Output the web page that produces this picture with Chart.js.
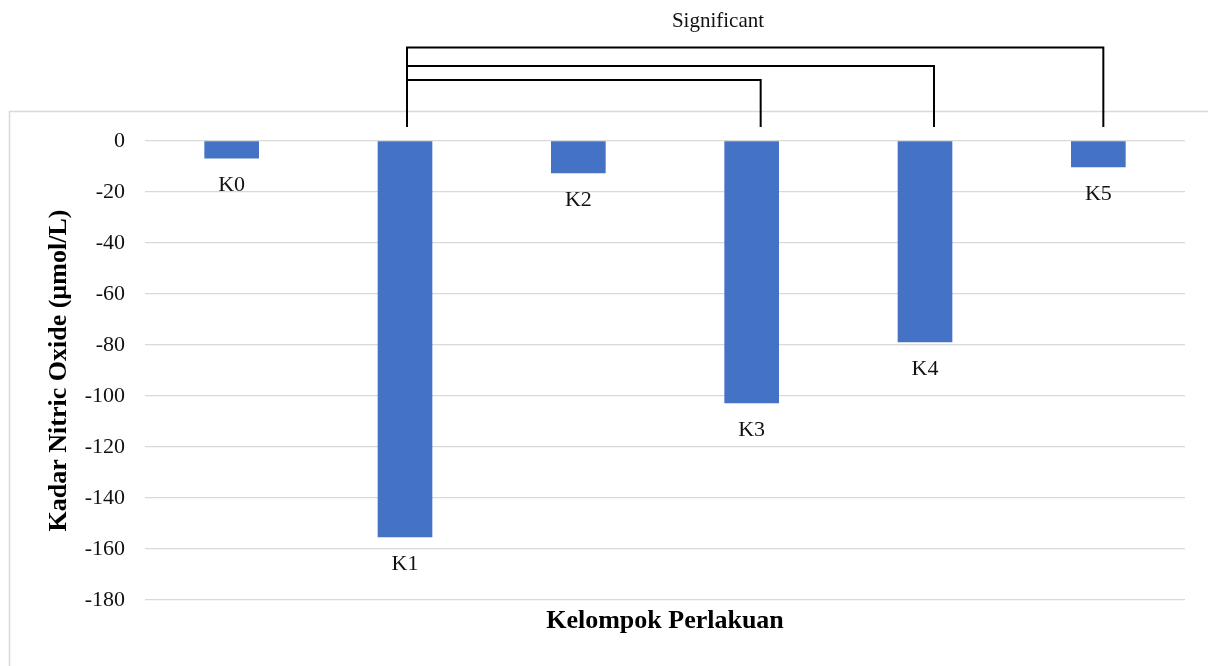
<!DOCTYPE html>
<html>
<head>
<meta charset="utf-8">
<script src="https://cdn.jsdelivr.net/npm/chart.js@4.4.1/dist/chart.umd.min.js"></script>
<style>
  body { margin: 0; background: #fff; }
</style>
</head>
<body>
<canvas id="nitricChart" width="1208" height="666"></canvas>
<script>
'use strict'

// data
const groups = ['K0', 'K1', 'K2', 'K3', 'K4', 'K5'];
const nitricValues = [-6.7, -155.3, -12.5, -102.7, -78.8, -10.2];
const yTicks = [0, -20, -40, -60, -80, -100, -120, -140, -160, -180];
const sigFrom = ['K1', 'K1', 'K1'];
const sigTo = ['K3', 'K4', 'K5'];

const serif = '"Liberation Serif", "Times New Roman", serif';

// 外枠
const frameBox = {
  id: 'frameBox',
  beforeDraw(chart) {
    const c = chart.ctx;
    c.save();
    c.fillStyle = '#fff';
    c.fillRect(0, 0, chart.width, chart.height);
    c.strokeStyle = '#d9d9d9';
    c.lineWidth = 1.5;
    c.strokeRect(9.5, 111.5, 1400, 800);
    c.restore();
  }
};

// ラベル K0..K5 (bar end の下)
const barLabels = {
  id: 'barLabels',
  afterDatasetsDraw(chart) {
    const c = chart.ctx;
    const meta = chart.getDatasetMeta(0);
    c.save();
    c.font = '22px ' + serif;
    c.fillStyle = '#111';
    c.textAlign = 'center';
    c.textBaseline = 'middle';
    meta.data.forEach((bar, i) => {
      c.fillText(groups[i], bar.x, bar.y + 27);
    });
    c.restore();
  }
};

// 有意差ブラケット
const sigBrackets = {
  id: 'sigBrackets',
  afterDraw(chart) {
    const c = chart.ctx;
    const x = chart.scales.x;
    const levels = [80, 66, 47.5];
    const shift = [9, 9, 5];
    const bottom = 127;
    c.save();
    c.strokeStyle = '#000';
    c.lineWidth = 2;
    sigFrom.forEach((from, i) => {
      const x1 = x.getPixelForValue(groups.indexOf(from)) + 2;
      const x2 = x.getPixelForValue(groups.indexOf(sigTo[i])) + shift[i];
      c.beginPath();
      c.moveTo(x1, bottom);
      c.lineTo(x1, levels[i]);
      c.lineTo(x2, levels[i]);
      c.lineTo(x2, bottom);
      c.stroke();
    });
    c.font = '21px ' + serif;
    c.fillStyle = '#111';
    c.textAlign = 'center';
    c.textBaseline = 'alphabetic';
    c.fillText('Significant', 718, 27);
    c.restore();
  }
};

const ctx = document.getElementById('nitricChart');
const myChart = new Chart(ctx, {
  type: 'bar',
  data: {
    labels: groups,
    datasets: [{
      data: nitricValues,
      backgroundColor: '#4472c4',
      barThickness: 54,
      borderWidth: 0
    }]
  },
  options: {
    responsive: false,
    animation: false,
    layout: {
      padding: { top: 141, left: 10, right: 23, bottom: 0 }
    },
    scales: {
      x: {
        grid: { display: false },
        border: { display: false },
        ticks: { display: false },
        afterFit: (scale) => { scale.height = 66; },
        title: {
          display: true,
          text: 'Kelompok Perlakuan',
          color: '#000',
          font: { family: serif, size: 26, weight: 'bold' },
          padding: { top: 0, bottom: 29 }
        }
      },
      y: {
        min: -180,
        max: 0,
        afterBuildTicks: (scale) => {
          scale.ticks = yTicks.map(v => ({ value: v }));
        },
        afterFit: (scale) => { scale.width = 135; },
        grid: {
          color: '#d9d9d9',
          lineWidth: 1.3,
          drawTicks: false
        },
        border: { display: false },
        ticks: {
          padding: 20,
          color: '#111',
          font: { family: serif, size: 22 }
        },
        title: {
          display: true,
          text: 'Kadar Nitric Oxide (µmol/L)',
          color: '#000',
          font: { family: serif, size: 26, weight: 'bold' },
          padding: { top: 34, bottom: 0 }
        }
      }
    },
    plugins: {
      legend: { display: false },
      tooltip: { enabled: false }
    }
  },
  plugins: [frameBox, barLabels, sigBrackets]
});
</script>
</body>
</html>
